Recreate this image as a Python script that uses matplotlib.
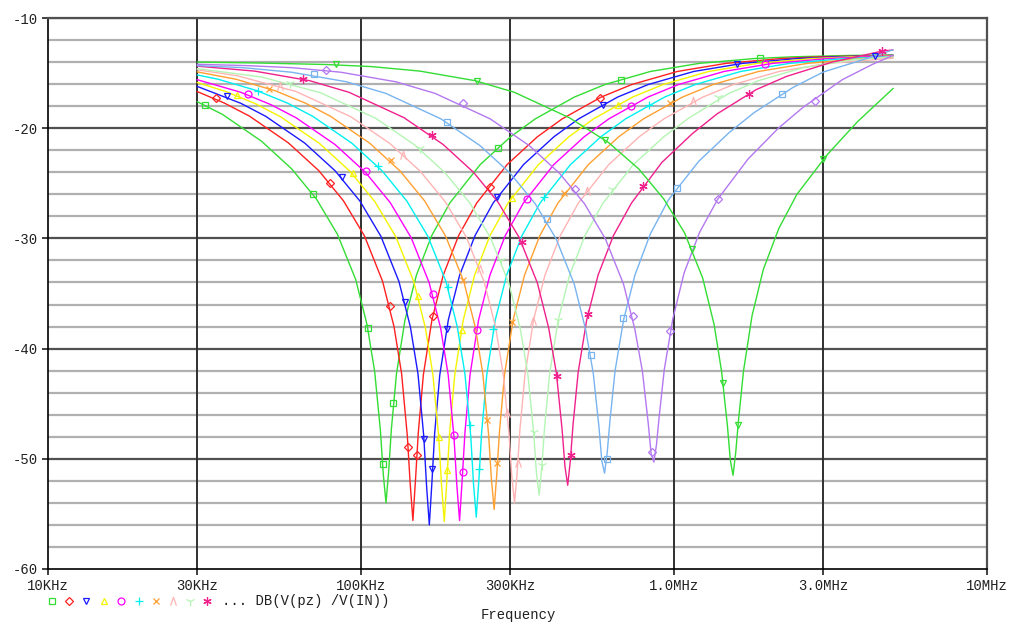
import matplotlib
matplotlib.use("Agg")
import matplotlib.pyplot as plt
from matplotlib.lines import Line2D
from matplotlib.path import Path

# ---- data (frequency in kHz, magnitude in dB) ----
xticks_khz = [10, 30, 100, 300, 1000, 3000, 10000]
xtick_labels = ["10KHz", "30KHz", "100KHz", "300KHz", "1.0MHz", "3.0MHz", "10MHz"]
yticks = [-60, -50, -40, -30, -20, -10]
trace_name = "DB(V(pz) /V(IN))"

f1 = [30, 36.1, 48.1, 60.1, 72.1, 84.1, 96.2, 104.6, 110.6, 115.4, 117.8, 120.2, 122.6, 125.0, 129.8, 138.2, 150.3, 168.3, 192.3, 240.4, 300.5, 360.6, 480.8, 601, 841, 1202, 1803, 2404, 3606, 5000]
d1 = [-17.6, -18.75, -21.18, -23.7, -26.44, -29.63, -33.74, -37.86, -42.1, -47.5, -51.4, -54.0, -51.1, -47.35, -42.3, -37.4, -33.34, -29.74, -26.78, -23.3, -20.78, -19.15, -17.17, -16.04, -14.85, -14.12, -13.68, -13.52, -13.4, -13.35]
mk1f = [31.7, 70.2, 105.3, 117.6, 126.5, 274, 677, 1883]
mk1d = [-17.9, -26.0, -38.1, -50.5, -44.9, -21.8, -15.6, -13.6]

f2 = [30, 36.6, 44.0, 58.6, 73.3, 87.9, 102.6, 117.2, 127.5, 134.8, 140.6, 143.6, 146.5, 149.4, 152.4, 158.2, 168.5, 183.1, 205.1, 234.4, 293, 366, 439.5, 586, 732.5, 1025.5, 1465, 2198, 2930, 5000]
d2 = [-16.68, -17.72, -18.9, -21.33, -23.85, -26.59, -29.78, -33.89, -38.01, -42.27, -47.91, -52.25, -55.6, -51.8, -47.65, -42.39, -37.4, -33.34, -29.74, -26.78, -23.3, -20.78, -19.15, -17.17, -16.04, -14.85, -14.12, -13.68, -13.52, -13.4]
mk2f = [34.4, 79.6, 123.5, 141, 151.3, 170.2, 258.3, 580]
mk2d = [-17.3, -25.0, -36.1, -48.9, -49.7, -37.0, -25.3, -17.3]

f3 = [30, 41.3, 49.6, 66.1, 82.7, 99.2, 115.7, 132.2, 143.8, 152.1, 158.7, 162.0, 165.3, 168.6, 171.9, 178.5, 190.1, 206.6, 231.4, 264.5, 330.6, 413.3, 495.9, 661.2, 826.5, 1157, 1653, 2480, 3306, 5000]
d3 = [-16.21, -17.74, -18.92, -21.35, -23.87, -26.61, -29.8, -33.91, -38.03, -42.31, -47.97, -52.47, -56.0, -52.0, -47.7, -42.4, -37.4, -33.34, -29.74, -26.78, -23.3, -20.78, -19.15, -17.17, -16.04, -14.85, -14.12, -13.68, -13.52, -13.4]
mk3f = [37.2, 86.8, 138.2, 158.9, 169, 187.8, 271.4, 592, 1586, 4400]
mk3d = [-17.1, -24.4, -35.8, -48.2, -50.9, -38.2, -26.2, -17.9, -14.2, -13.45]

f4 = [30, 36.9, 46.1, 55.4, 73.8, 92.3, 110.7, 129.2, 147.6, 160.5, 169.7, 177.1, 180.8, 184.5, 188.2, 191.9, 199.3, 212.2, 230.6, 258.3, 295.2, 369, 461.3, 553.5, 738, 922.5, 1292, 1845, 2768, 3690, 5000]
d4 = [-15.86, -16.66, -17.79, -18.97, -21.4, -23.92, -26.66, -29.85, -33.96, -38.08, -42.34, -47.98, -52.32, -55.7, -51.8, -47.65, -42.39, -37.4, -33.34, -29.74, -26.78, -23.3, -20.78, -19.15, -17.17, -16.04, -14.85, -14.12, -13.68, -13.52, -13.42]
mk4f = [40.1, 94.5, 152.5, 177.9, 188.7, 209.8, 304.4, 663.7]
mk4d = [-17.0, -24.1, -35.2, -48.0, -51.0, -38.3, -26.3, -17.9]

f5 = [30, 41.3, 51.6, 62.0, 82.6, 103.3, 123.9, 144.6, 165.2, 179.7, 190.0, 198.2, 202.4, 206.5, 210.6, 214.8, 223.0, 237.5, 258.1, 289.1, 330.4, 413, 516.3, 619.5, 826, 1033, 1446, 2065, 3098, 4130, 5000]
d5 = [-15.6, -16.74, -17.87, -19.05, -21.48, -24.0, -26.74, -29.93, -34.04, -38.16, -42.42, -48.06, -52.4, -55.6, -51.8, -47.65, -42.39, -37.4, -33.34, -29.74, -26.78, -23.3, -20.78, -19.15, -17.17, -16.04, -14.85, -14.12, -13.68, -13.52, -13.45]
mk5f = [43.5, 103.7, 170.2, 198.2, 211.3, 234.3, 338.4, 728.9, 1953]
mk5d = [-16.9, -23.9, -35.0, -47.8, -51.2, -38.3, -26.4, -18.0, -14.2]

f6 = [30, 35.0, 46.7, 58.4, 70.1, 93.4, 116.8, 140.1, 163.5, 186.8, 203.1, 214.8, 224.2, 228.8, 233.5, 238.2, 242.8, 252.2, 268.5, 291.9, 326.9, 373.6, 467, 583.8, 700.5, 934, 1168, 1635, 2335, 3503, 5000]
d6 = [-15.17, -15.56, -16.61, -17.74, -18.92, -21.35, -23.87, -26.61, -29.8, -33.91, -38.03, -42.29, -47.93, -52.27, -55.3, -51.8, -47.65, -42.39, -37.4, -33.34, -29.74, -26.78, -23.3, -20.78, -19.15, -17.17, -16.04, -14.85, -14.12, -13.68, -13.5]
mk6f = [47, 113.6, 189.2, 223, 238.4, 264.7, 385, 832]
mk6d = [-16.6, -23.4, -34.4, -46.9, -50.9, -38.2, -26.2, -17.9]

f7 = [30, 39.9, 53.3, 66.6, 79.9, 106.5, 133.2, 159.8, 186.4, 213, 231.7, 245, 255.6, 261, 266.3, 271.6, 277, 287.6, 306.2, 332.9, 372.8, 426.1, 532.6, 665.8, 798.9, 1065, 1332, 1864, 2663, 3995, 5000]
d7 = [-14.89, -15.56, -16.61, -17.74, -18.92, -21.35, -23.87, -26.61, -29.8, -33.91, -38.03, -42.27, -47.77, -51.83, -54.6, -51.35, -47.5, -42.3, -37.4, -33.34, -29.74, -26.78, -23.3, -20.78, -19.15, -17.17, -16.04, -14.85, -14.12, -13.68, -13.55]
mk7f = [50.8, 124.7, 212.3, 253.2, 272.7, 304.4, 446.1, 971]
mk7d = [-16.4, -22.9, -33.8, -46.5, -50.4, -37.6, -25.9, -17.7]

f8 = [30, 40.2, 61.9, 92.9, 123.8, 154.8, 185.7, 216.7, 247.6, 269.3, 284.7, 297.1, 303.3, 309.5, 315.7, 321.9, 334.3, 355.9, 386.9, 433.3, 495.2, 619, 773.8, 928.5, 1238, 1548, 2167, 3095, 5000]
d8 = [-14.7, -15.24, -16.66, -18.97, -21.4, -23.92, -26.66, -29.85, -33.96, -38.08, -42.32, -47.72, -51.62, -54.0, -51.1, -47.35, -42.3, -37.4, -33.34, -29.74, -26.78, -23.3, -20.78, -19.15, -17.17, -16.04, -14.85, -14.12, -13.65]
mk8f = [55.1, 136.5, 240, 292.2, 318.2, 355.2, 526.1, 1153]
mk8d = [-16.2, -22.4, -32.8, -45.8, -50.4, -37.5, -25.7, -17.5]

f9 = [30, 48.2, 74.2, 111.3, 148.4, 185.5, 222.6, 259.7, 296.8, 322.8, 341.3, 356.2, 363.6, 371, 378.4, 385.8, 400.7, 426.7, 463.8, 519.4, 593.6, 742, 927.5, 1113, 1484, 1855, 2597, 3710, 5000]
d9 = [-14.59, -15.36, -16.78, -19.09, -21.52, -24.04, -26.78, -29.97, -34.08, -38.2, -42.33, -47.64, -51.34, -53.3, -50.6, -47.2, -42.23, -37.4, -33.34, -29.74, -26.78, -23.3, -20.78, -19.1, -16.9, -15.7, -14.5, -13.8, -13.5]
mk9f = [59.3, 154.4, 280, 356.2, 378.4, 426.7, 632.3, 1385]
mk9d = [-15.9, -21.8, -32.0, -47.6, -50.6, -37.4, -25.5, -17.2]

f10 = [30, 45.75, 68.6, 91.5, 137.3, 183, 228.8, 274.5, 320.3, 366, 398, 420.9, 439.2, 448.4, 457.5, 466.7, 475.8, 494.1, 526.1, 571.9, 640.5, 732, 915, 1144, 1373, 1830, 2288, 3203, 4000, 4630, 5000]
d10 = [-14.37, -14.82, -15.69, -16.74, -19.05, -21.48, -24.0, -26.74, -29.93, -34.04, -38.16, -42.22, -47.4, -50.7, -52.4, -50.1, -46.9, -42.15, -37.4, -33.34, -29.74, -26.78, -23.1, -20.5, -18.7, -16.5, -15.3, -14.0, -13.4, -13.0, -12.9]
mk10f = [65.4, 169, 327.6, 421.9, 468.8, 530, 797.8, 1740, 4630]
mk10d = [-15.5, -20.6, -30.3, -42.5, -49.7, -36.9, -25.2, -16.9, -13.0]

f11 = [30, 42, 60, 90, 120, 180, 240, 300, 360, 420, 480, 522, 552, 576, 588, 600, 612, 624, 648, 690, 750, 840, 960, 1200, 1500, 1800, 2400, 3000, 3900, 5000]
d11 = [-14.32, -14.51, -14.92, -15.79, -16.84, -19.15, -21.58, -24.1, -26.84, -30.03, -34.14, -38.26, -42.22, -47.15, -50.2, -51.3, -49.4, -46.6, -42.04, -37.4, -33.34, -29.6, -26.5, -23.0, -20.4, -18.6, -16.3, -14.9, -13.9, -12.9]
mk11f = [70.9, 188.7, 392, 541.9, 609.5, 688.7, 1025, 2209]
mk11d = [-15.1, -19.4, -28.2, -40.6, -50.0, -37.2, -25.4, -16.9]

f12 = [30, 43.1, 60.3, 86.2, 129.3, 172.4, 258.6, 344.8, 431, 517.2, 603.4, 689.6, 750, 793, 827.5, 844.8, 862, 879.2, 896.5, 931, 991.3, 1078, 1207, 1379, 1724, 2155, 2586, 3448, 4310, 5000]
d12 = [-14.2, -14.32, -14.51, -14.92, -15.79, -16.84, -19.15, -21.58, -24.1, -26.84, -30.03, -34.14, -38.26, -42.1, -46.8, -49.5, -50.3, -48.7, -46.2, -41.9, -37.3, -33.1, -29.45, -26.45, -22.8, -20.0, -18.1, -15.6, -14.2, -13.4]
mk12f = [77.1, 211.3, 482.8, 738, 848.8, 971, 1379, 2822]
mk12d = [-14.7, -17.7, -25.5, -37.0, -49.4, -38.4, -26.45, -17.5]

f13 = [30, 46.3, 77.2, 108.1, 154.4, 231.6, 308.8, 463.2, 617.6, 772, 926.4, 1081, 1235, 1343, 1420, 1482, 1513, 1544, 1575, 1606, 1668, 1776, 1930, 2162, 2470, 3088, 3860, 5010]
d13 = [-14.0, -14.08, -14.22, -14.41, -14.82, -15.69, -16.74, -19.05, -21.3, -23.7, -26.4, -29.5, -33.6, -37.8, -42.12, -47.05, -50.1, -51.5, -49.4, -46.6, -42.0, -37.0, -32.8, -29.1, -26.0, -22.4, -19.4, -16.4]
mk13f = [83, 234, 602, 1141, 1434, 1601, 2990]
mk13d = [-14.2, -15.7, -21.1, -31.0, -43.1, -46.9, -22.8]

curves = [(f1, d1, mk1f, mk1d), (f2, d2, mk2f, mk2d), (f3, d3, mk3f, mk3d),
          (f4, d4, mk4f, mk4d), (f5, d5, mk5f, mk5d), (f6, d6, mk6f, mk6d),
          (f7, d7, mk7f, mk7d), (f8, d8, mk8f, mk8d), (f9, d9, mk9f, mk9d),
          (f10, d10, mk10f, mk10d), (f11, d11, mk11f, mk11d), (f12, d12, mk12f, mk12d),
          (f13, d13, mk13f, mk13d)]

colors = ["#33dd33", "#ff2020", "#1a1aff", "#f4f400", "#ff00ff", "#00f0f0", "#ffa030",
          "#ffb4b4", "#b4f5b4", "#f0208c", "#78b4f0", "#b478f0", "#33dd33"]
caret = Path([(-0.7, -1.0), (0.0, 1.0), (0.7, -1.0)], [Path.MOVETO, Path.LINETO, Path.LINETO])
markers = ["s", "D", "v", "^", "o", "+", "x", caret, "1", (6, 2, 0), "s", "D", "v"]
msizes = [5, 4, 5, 5, 5, 6, 5, 6, 7, 6, 5, 4, 5]

MONO = "Liberation Mono"

fig = plt.figure(figsize=(10.23, 6.39), dpi=100)
L, R, T, B = 48, 987, 18, 569
W, H = 1023, 639
ax = fig.add_axes([L / W, 1 - B / H, (R - L) / W, (B - T) / H])
ax.set_xscale("log")
ax.set_xlim(10, 10000)
ax.set_ylim(-60, -10)

# grid lines
for yv in range(-58, -10, 2):
    if yv % 10 == 0:
        ax.axhline(yv, color="#505050", lw=1.6, zorder=1)
    else:
        ax.axhline(yv, color="#b0b0b0", lw=1.6, zorder=1)
ax.axhline(-10, color="#505050", lw=1.6, zorder=1)
for xv in xticks_khz[1:-1]:
    ax.axvline(xv, color="#303030", lw=1.4, zorder=1)

for (fx, dx, mfx, mdx), c, m, ms in zip(curves, colors, markers, msizes):
    ax.plot(fx, dx, color=c, lw=1.0, zorder=3)
    ax.plot(mfx, mdx, ls="none", marker=m, ms=ms, mfc="none", mec=c, mew=0.9, zorder=4)

ax.set_xticks(xticks_khz)
ax.set_xticklabels(xtick_labels, family=MONO, fontsize=10)
ax.minorticks_off()
ax.set_yticks(yticks)
ax.set_yticklabels([str(v) for v in yticks], family=MONO, fontsize=10)
ax.tick_params(axis="both", direction="out", length=4, width=1.2, color="#202020",
               pad=3, labelcolor="#202020")
for s in ["left", "bottom"]:
    ax.spines[s].set_color("#000000")
    ax.spines[s].set_linewidth(1.2)
for s in ["top", "right"]:
    ax.spines[s].set_color("#505050")
    ax.spines[s].set_linewidth(1.6)

# legend row
leg_x = [51.7, 69, 86, 103.7, 121.3, 138.7, 155.7, 173, 190, 207.3]
leg_y = 600.7
for i, xp in enumerate(leg_x):
    fig.add_artist(Line2D([xp / W], [1 - leg_y / H], transform=fig.transFigure,
                          marker=markers[i], color=colors[i], mfc="none", mec=colors[i],
                          ms=msizes[i], mew=0.9, ls="none"))
fig.text(222 / W, 1 - leg_y / H, "... " + trace_name, family=MONO, fontsize=10,
         va="center", ha="left", color="#202020")
fig.text(518 / W, 1 - 615 / H, "Frequency", family=MONO, fontsize=10,
         va="center", ha="center", color="#202020")

fig.savefig("out.png", dpi=100)
